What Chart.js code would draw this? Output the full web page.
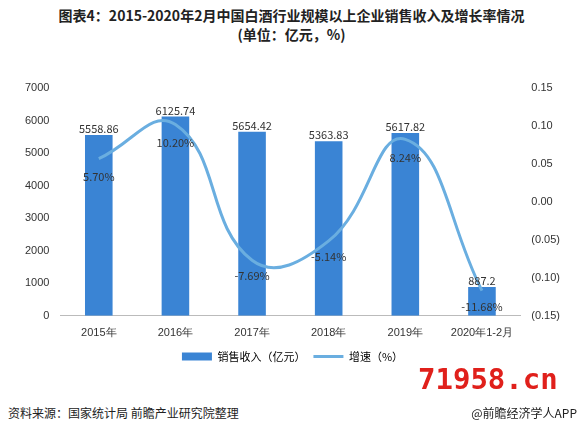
<!DOCTYPE html>
<html><head><meta charset="utf-8">
<script src="https://cdn.jsdelivr.net/npm/chart.js@4/dist/chart.umd.min.js"></script>
<style>
body{margin:0;width:583px;height:435px;background:#fff;font-family:"Noto Sans CJK SC",sans-serif;position:relative;overflow:hidden}
#t{position:absolute;top:6px;left:0;width:583px;text-align:center;font-weight:bold;font-size:14px;line-height:19px;color:#222}
#c{position:absolute;left:0;top:72px}
#src{position:absolute;left:8px;top:404px;font-size:12px;color:#222}
#app{position:absolute;right:6px;top:404px;font-size:12px;color:#222}
#wm{position:absolute;left:418px;top:362px;font-size:29px;font-weight:bold;color:#e0201b;font-family:"DejaVu Sans Mono"}
</style></head><body>
<div id="t">图表4：2015-2020年2月中国白酒行业规模以上企业销售收入及增长率情况<br>(单位：亿元，%)</div>
<canvas id="c" width="583" height="300"></canvas>
<div id="wm">71958.cn</div>
<div id="src">资料来源：国家统计局 前瞻产业研究院整理</div>
<div id="app">@前瞻经济学人APP</div>
<script>
const categories=["2015年","2016年","2017年","2018年","2019年","2020年1-2月"];
const revenue=[5558.86,6125.74,5654.42,5363.83,5617.82,887.2];
const growth=[0.057,0.102,-0.0769,-0.0514,0.0824,-0.1168];
const growthLabels=["5.70%","10.20%","-7.69%","-5.14%","8.24%","-11.68%"];
const labelPlugin={id:'lbl',afterDatasetsDraw(ch){
 const ctx=ch.ctx;ctx.save();ctx.font='11px "Noto Sans CJK SC"';ctx.fillStyle='#333';ctx.textAlign='center';
 ch.getDatasetMeta(0).data.forEach((b,i)=>{ctx.fillText(String(revenue[i]),b.x,b.y-6);});
 ch.getDatasetMeta(1).data.forEach((p,i)=>{const up=growth[i]>0;ctx.fillText(growthLabels[i],p.x,up?p.y+18:p.y+16);});
 ctx.restore();}};
new Chart(document.getElementById('c'),{
 data:{labels:categories,datasets:[
  {type:'bar',label:'销售收入（亿元）',data:revenue,backgroundColor:'#3a84d4',barPercentage:0.4,categoryPercentage:0.9,yAxisID:'y',order:2},
  {type:'line',label:'增速（%）',data:growth,borderColor:'#6aaee0',backgroundColor:'#6aaee0',borderWidth:3,pointRadius:0,tension:0.45,yAxisID:'y1',order:1}
 ]},
 options:{responsive:false,animation:false,devicePixelRatio:1,
  layout:{padding:{left:22,right:20,top:16,bottom:0}},
  plugins:{legend:{position:'bottom',labels:{usePointStyle:true,font:{size:11,family:'Noto Sans CJK SC'},color:'#333',boxHeight:8,pointStyleWidth:30,padding:8,
    generateLabels:ch=>[{text:'销售收入（亿元）',fillStyle:'#3a84d4',strokeStyle:'#3a84d4',lineWidth:0,datasetIndex:0,pointStyle:'rect'},{text:'增速（%）',fillStyle:'#6aaee0',strokeStyle:'#6aaee0',lineWidth:3,datasetIndex:1,pointStyle:'line'}]}},tooltip:{enabled:false}},
  scales:{
   x:{grid:{display:false},border:{color:'#bbb'},ticks:{color:'#333',font:{size:11},maxRotation:0,minRotation:0}},
   y:{min:0,max:7000,ticks:{stepSize:1000,color:'#333',font:{size:11},callback:v=>String(v)},grid:{display:false},border:{display:false}},
   y1:{position:'right',min:-0.15,max:0.15,ticks:{stepSize:0.05,color:'#333',font:{size:11},callback:v=>{const a=Math.abs(v).toFixed(2);return v<-1e-9?'('+a+')':a;}},grid:{display:false},border:{display:false}}
  }},
 plugins:[labelPlugin]
});
</script></body></html>
